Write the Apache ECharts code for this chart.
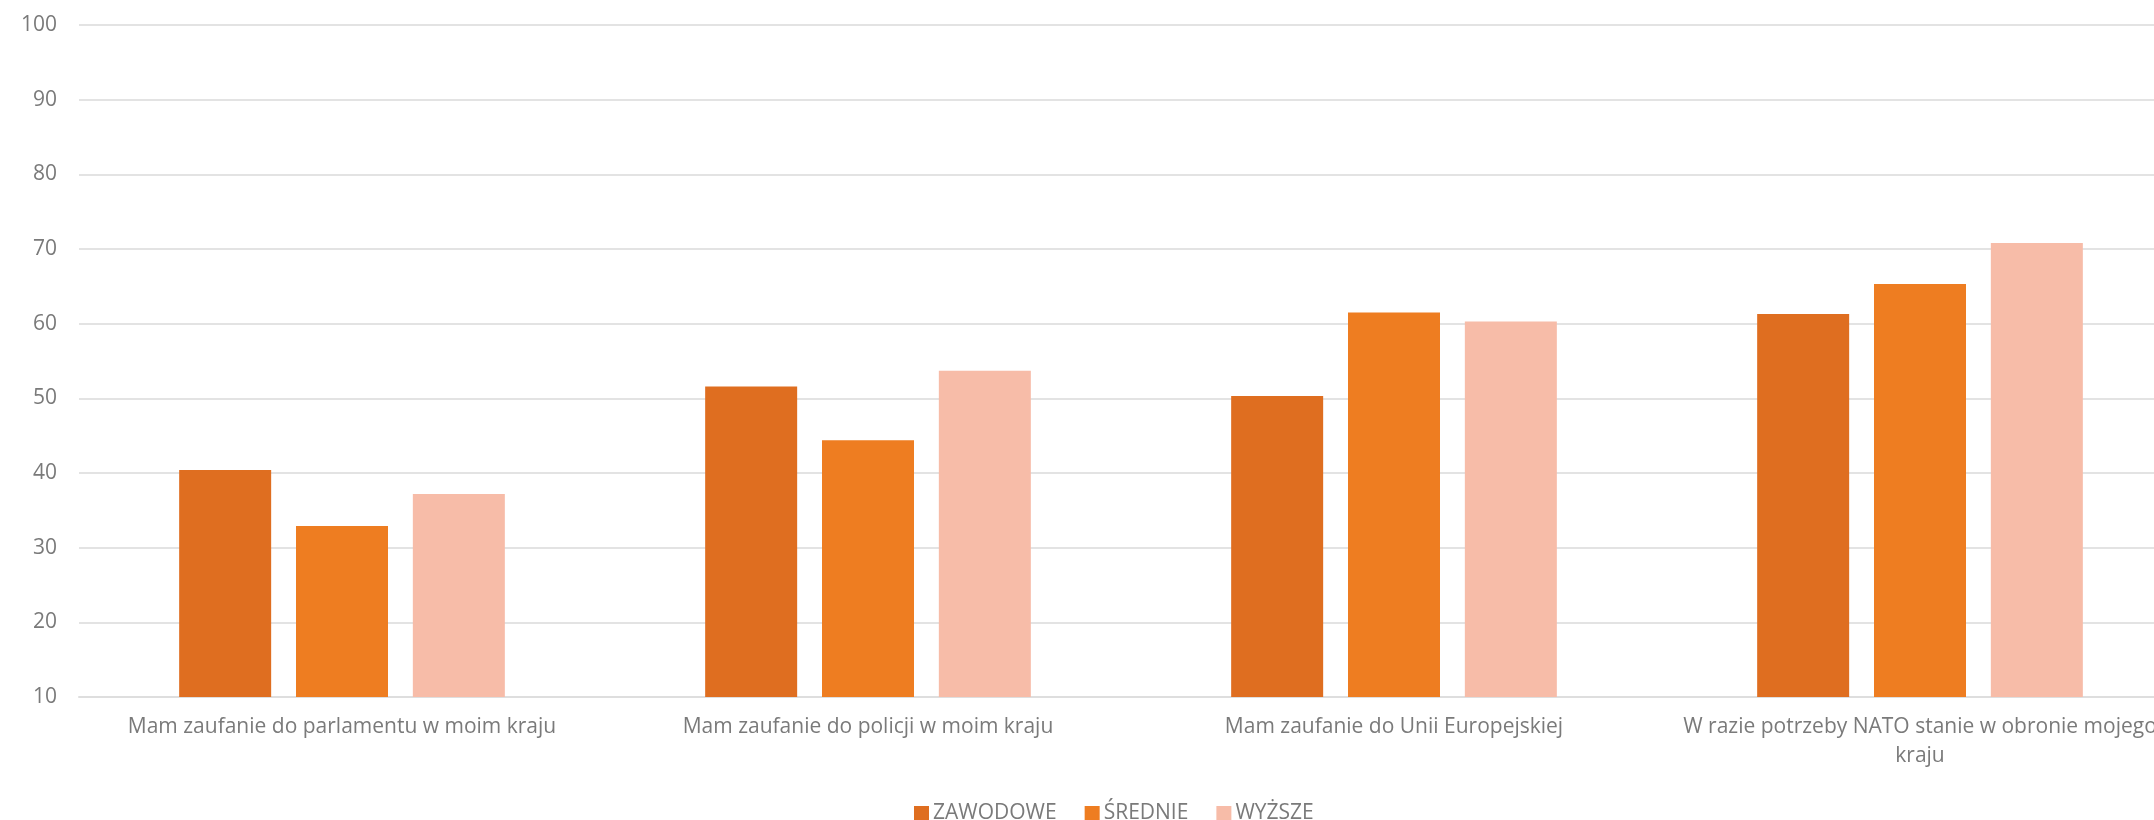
<!DOCTYPE html>
<html>
<head>
<meta charset="utf-8">
<script src="https://cdn.jsdelivr.net/npm/echarts@6/dist/echarts.min.js"></script>
<style>
html,body{margin:0;padding:0;background:#fff;overflow:hidden;}
#chart{width:2190px;height:820px;}
</style>
</head>
<body>
<div id="chart"></div>
<script>
const categories = [
  "Mam zaufanie do parlamentu w moim kraju",
  "Mam zaufanie do policji w moim kraju",
  "Mam zaufanie do Unii Europejskiej",
  "W razie potrzeby NATO stanie w obronie mojego\nkraju"
];
const seriesNames = ["ZAWODOWE", "ŚREDNIE", "WYŻSZE"];
const zawodowe = [40.4, 51.6, 50.3, 61.3];
const srednie = [32.9, 44.4, 61.5, 65.3];
const wyzsze = [37.2, 53.7, 60.3, 70.8];
const yTicks = { min: 10, max: 100, interval: 10 };

const colors = ["#DF6E20", "#EE7D21", "#F7BCA8"];
const font = "'Open Sans', 'Noto Sans', sans-serif";
const textColor = "#7A7A7A";

const chart = echarts.init(document.getElementById('chart'), null, { renderer: 'canvas' });
const values = [zawodowe, srednie, wyzsze];
chart.setOption({
  animation: false,
  backgroundColor: '#ffffff',
  color: colors,
  grid: { left: 79, top: 25, width: 2104, height: 672, containLabel: false },
  legend: {
    data: seriesNames,
    top: 798,
    left: 909,
    itemWidth: 15,
    itemHeight: 15,
    itemGap: 28,
    icon: 'rect',
    textStyle: { color: textColor, fontFamily: font, fontSize: 21, padding: [0, 0, 0, -1] }
  },
  xAxis: {
    type: 'category',
    data: categories,
    axisTick: { show: false },
    axisLine: { show: true, lineStyle: { color: '#DEDEDE', width: 2 } },
    axisLabel: {
      interval: 0,
      margin: 16,
      color: textColor,
      fontFamily: font,
      fontSize: 21,
      lineHeight: 29
    }
  },
  yAxis: {
    type: 'value',
    min: yTicks.min,
    max: yTicks.max,
    interval: yTicks.interval,
    axisLine: { show: false },
    axisTick: { show: false },
    splitLine: { lineStyle: { color: '#E3E3E3', width: 2 } },
    axisLabel: { margin: 22, color: textColor, fontFamily: font, fontSize: 21 }
  },
  series: seriesNames.map((name, i) => ({
    name: name,
    type: 'bar',
    data: values[i],
    barWidth: 92,
    barGap: '27%',
    itemStyle: { color: colors[i] }
  }))
});
</script>
</body>
</html>
